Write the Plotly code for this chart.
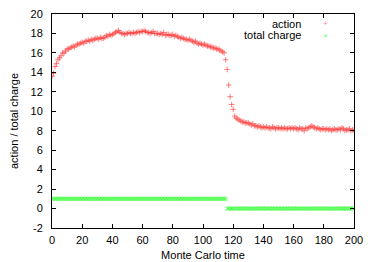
import plotly.graph_objects as go

time = list(range(0, 201))

action = [
    13.6, 13.9, 14.6, 14.9, 15.3, 15.5, 15.7, 16.0, 16.0, 16.2,
    16.4, 16.4, 16.5, 16.6, 16.7, 16.6, 16.8, 16.9, 16.9, 17.0,
    17.1, 17.0, 17.2, 17.2, 17.3, 17.2, 17.4, 17.3, 17.4, 17.5,
    17.5, 17.4, 17.6, 17.5, 17.5, 17.6, 17.8, 17.7, 17.9, 17.8,
    17.9, 18.0, 18.1, 18.2, 18.3, 18.1, 18.0, 18.0, 17.9, 18.0,
    18.0, 18.1, 18.0, 18.0, 18.1, 18.0, 18.1, 18.2, 18.1, 18.2,
    18.2, 18.3, 18.2, 18.1, 18.1, 18.0, 18.1, 18.2, 18.0, 18.0,
    18.0, 17.9, 18.0, 17.9, 18.1, 17.8, 17.9, 17.9, 17.8, 17.8,
    17.9, 17.7, 17.8, 17.7, 17.6, 17.5, 17.6, 17.5, 17.4, 17.4,
    17.3, 17.4, 17.3, 17.2, 17.1, 17.2, 17.0, 16.9, 17.0, 16.9,
    16.8, 16.9, 16.8, 16.7, 16.7, 16.6, 16.6, 16.5, 16.5, 16.4,
    16.4, 16.3, 16.2, 16.1, 16.0, 15.3, 14.3, 12.7, 11.5, 10.7,
    10.2, 9.5, 9.3, 9.2, 9.1, 9.0, 8.9, 8.9, 8.8, 8.8,
    8.8, 8.7, 8.6, 8.7, 8.5, 8.5, 8.4, 8.5, 8.4, 8.3,
    8.4, 8.3, 8.4, 8.3, 8.3, 8.2, 8.4, 8.3, 8.2, 8.3,
    8.3, 8.2, 8.3, 8.2, 8.3, 8.2, 8.2, 8.3, 8.2, 8.3,
    8.2, 8.3, 8.2, 8.1, 8.3, 8.2, 8.2, 8.0, 8.3, 8.2,
    8.3, 8.4, 8.5, 8.4, 8.3, 8.2, 8.3, 8.2, 8.1, 8.2,
    8.2, 8.1, 8.2, 8.1, 8.2, 8.0, 8.1, 8.2, 8.1, 8.1,
    8.2, 8.1, 8.3, 8.2, 8.0, 8.1, 8.1, 8.2, 8.0, 8.1,
    8.0,
]

total_charge = [1] * 116 + [0] * 85

x_ticks = [0, 20, 40, 60, 80, 100, 120, 140, 160, 180, 200]
y_ticks = [-2, 0, 2, 4, 6, 8, 10, 12, 14, 16, 18, 20]
series_names = ["action", "total charge"]

FONT = "Liberation Sans, Arial, sans-serif"
RED = "rgba(255,60,60,0.65)"
GREEN = "rgba(60,255,60,0.85)"

fig = go.Figure()
fig.add_trace(go.Scatter(
    x=time, y=action, mode="markers", name=series_names[0],
    marker=dict(symbol="cross-thin", size=4, line=dict(width=1, color=RED)),
    showlegend=False,
))
fig.add_trace(go.Scatter(
    x=time, y=total_charge, mode="markers", name=series_names[1],
    marker=dict(symbol="x-thin", size=4, line=dict(width=1, color=GREEN)),
    showlegend=False,
))

axis_common = dict(
    showgrid=False, zeroline=False, showline=True, linecolor="#000000", linewidth=1,
    mirror="ticks", ticks="inside", ticklen=4, tickcolor="#000000",
    tickfont=dict(family=FONT, size=11, color="#000000"),
    automargin=False, ticklabeloverflow="allow",
)

fig.update_xaxes(range=[0, 200], tickvals=x_ticks, ticktext=[str(v) for v in x_ticks],
                 ticklabelstandoff=2,
                 title=dict(text="Monte Carlo time", font=dict(family=FONT, size=11, color="#000"), standoff=6),
                 **axis_common)
fig.update_yaxes(range=[-2, 20], tickvals=y_ticks, ticktext=[str(v) for v in y_ticks],
                 ticklabelstandoff=6,
                 title=dict(text="action / total charge", font=dict(family=FONT, size=11, color="#000"), standoff=9),
                 **axis_common)

# gnuplot-style key: label then sample symbol, top right
fig.add_annotation(xref="paper", yref="paper", x=0.830, y=0.955, text=series_names[0],
                   showarrow=False, xanchor="right", yanchor="middle",
                   font=dict(family=FONT, size=11, color="#000"))
fig.add_annotation(xref="paper", yref="paper", x=0.830, y=0.900, text=series_names[1],
                   showarrow=False, xanchor="right", yanchor="middle",
                   font=dict(family=FONT, size=11, color="#000"))
fig.add_annotation(xref="paper", yref="paper", x=0.907, y=0.955, text="+",
                   showarrow=False, xanchor="center", yanchor="middle",
                   font=dict(family=FONT, size=8, color=RED))
fig.add_annotation(xref="paper", yref="paper", x=0.907, y=0.900, text="×",
                   showarrow=False, xanchor="center", yanchor="middle",
                   font=dict(family=FONT, size=8, color=GREEN))

# The page body keeps the browser's default 8px margin, so the figure is
# sized 8px smaller to fit the 374x262 window.
fig.update_layout(
    width=366, height=254,
    margin=dict(l=44, r=20, t=6, b=34),
    paper_bgcolor="#ffffff", plot_bgcolor="#ffffff",
    font=dict(family=FONT, size=11, color="#000"),
)

fig.write_html("out.html")
